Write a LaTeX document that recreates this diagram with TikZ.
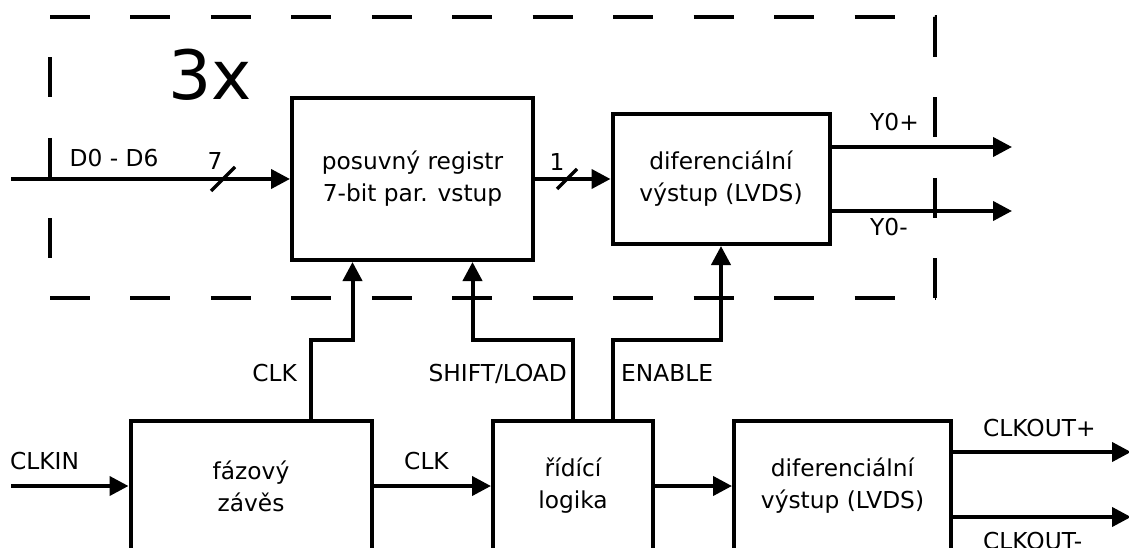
\documentclass[tikz,border=0pt]{standalone}
\usepackage{fontspec}
\setmainfont{DejaVu Sans}
\usepackage{tikz}
\usetikzlibrary{arrows.meta}

\begin{document}
\begin{tikzpicture}[x=1pt, y=-1pt,
				blok/.style={draw, line width=4pt, minimum width=#1, minimum height=130pt, inner sep=0pt, align=center},
				sig/.style={line width=4pt, ->},
				bus/.style={line width=3.4pt},
				rahmen/.style={line width=4pt, dash pattern=on 40pt off 40.45pt},
				lbl/.style={inner sep=0pt},
				>={Triangle[length=19pt, width=19pt]},   %Pfeilspitzen
				font=\fontsize{23.3pt}{32pt}\selectfont]
				\useasboundingbox (0,0) rectangle (1129,548);
				%Rahmen 3x
				\draw[rahmen] (50,17) -- (935,17) -- (935,298);
				\draw[rahmen] (50,298) -- (935,298);
				\draw[rahmen, dash phase=40pt] (50,17) -- (50,298);
				\node[lbl, font=\fontsize{68pt}{68pt}\selectfont, anchor=base] (rep) at (210,100) {3x};
				% Bloecke
				\node[blok=241pt, minimum height=162pt] (reg) at (412.5,179) {posuvný registr\\7-bit par. vstup};
				\node[blok=217pt] (dtop) at (721,179) {diferenciální\\výstup (LVDS)};
				\node[blok=241pt] (pll) at (251,486) {fázový\\závěs};
				\node[blok=160pt] (ctl) at (573,486) {řídící\\logika};
				\node[blok=217pt] (dbot) at (842.5,486) {diferenciální\\výstup (LVDS)};
				% Ein- und Ausgaenge
				\coordinate (din) at (11,179);
				\coordinate (clkin) at (11,486);
				\coordinate (yp) at (1012,147);
				\coordinate (ym) at (1012,211);
				\coordinate (cop) at (1131,452);
				\coordinate (com) at (1131,517);
				\coordinate (jog) at (0,340);
				\coordinate (regclk) at ([xshift=-60pt]reg.south);
				\coordinate (regsl) at ([xshift=60pt]reg.south);
				\coordinate (b7) at (223,179);
				\coordinate (b1) at (567,179);
				% Signale zeichnen
				\draw[sig] (din) -- (reg);
				\draw[sig] (reg) -- (dtop);
				\draw[sig] (dtop.east |- yp) -- (yp);
				\draw[sig] (dtop.east |- ym) -- (ym);
				\draw[sig] (clkin) -- (pll);
				\draw[sig] (pll) -- (ctl);
				\draw[sig] (ctl) -- (dbot);
				\draw[sig] (dbot.east |- cop) -- (cop);
				\draw[sig] (dbot.east |- com) -- (com);
				\draw[sig] ([xshift=60pt]pll.north) |- (jog -| regclk) -- (regclk);
				\draw[sig] (ctl.north) |- (jog -| regsl) -- (regsl);
				\draw[sig] ([xshift=40pt]ctl.north) |- (jog -| dtop.south) -- (dtop.south);
				% Busbreite
				\draw[bus] (b7) ++(-12,12) -- ++(24,-24);
				\draw[bus] (b1) ++(-10,10) -- ++(20,-20);
				%Beschriftung
				\node[lbl, anchor=base] (ld) at (114,167) {D0 - D6};
				\node[lbl, anchor=base] (l7) at (215,170) {7};
				\node[lbl, anchor=base] (l1) at (557,171) {1};
				\node[lbl, anchor=base west] (lyp) at (870,131) {Y0+};
				\node[lbl, anchor=base west] (lym) at (870,235) {Y0-};
				\node[lbl, anchor=base west] (lclkin) at (10,469) {CLKIN};
				\node[lbl, anchor=base] (lclk) at (426.5,469) {CLK};
				\node[lbl, anchor=base east] (lclk2) at (297,381) {CLK};
				\node[lbl, anchor=base east] (lsl) at (567,381) {SHIFT/LOAD};
				\node[lbl, anchor=base west] (len) at (621,381) {ENABLE};
				\node[lbl, anchor=base west] (lcop) at (983,436) {CLKOUT+};
				\node[lbl, anchor=base west] (lcom) at (983,549) {CLKOUT-};
			\end{tikzpicture}
\end{document}
